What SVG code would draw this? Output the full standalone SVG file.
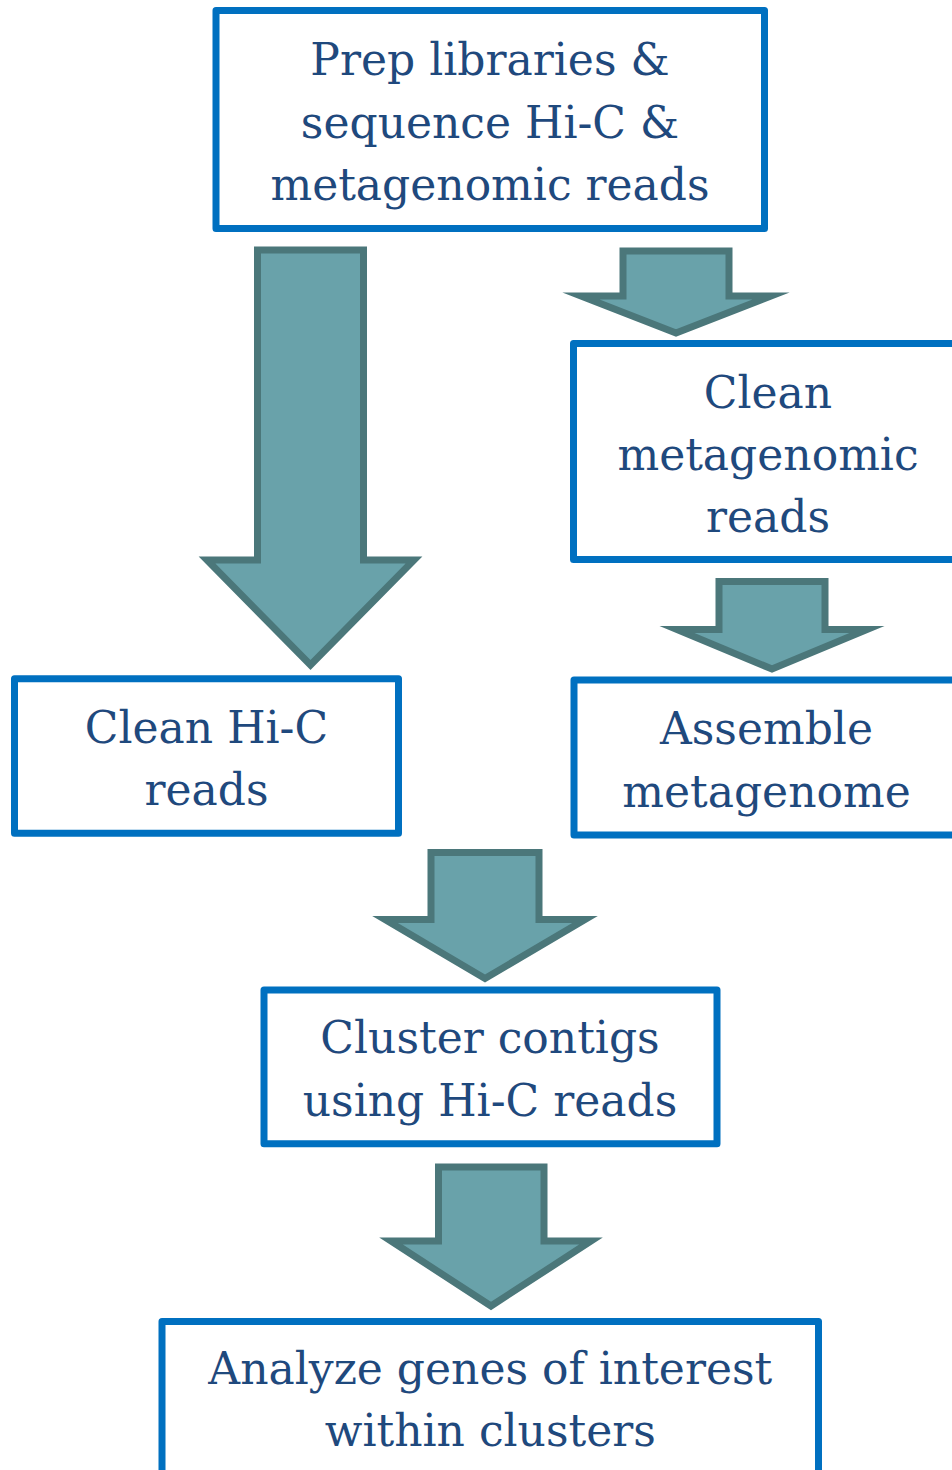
<svg xmlns="http://www.w3.org/2000/svg" width="952" height="1470" viewBox="0 0 952 1470">
  <style>
    .box { fill: #FFFFFF; stroke: #0070C0; stroke-width: 7; stroke-linejoin: round; }
    .arrow { fill: #69A2AA; stroke: #4B777A; stroke-width: 7; stroke-linejoin: miter; stroke-miterlimit: 10; }
    .label { font-family: "DejaVu Serif", "Liberation Serif", serif; font-size: 44px; fill: #1F497D; text-anchor: middle; }
  </style>
  <rect width="952" height="1470" fill="#FFFFFF"/>

  <g id="connectors">
    <polygon id="arrow-prep-to-hic" class="arrow" points="257.5,250 363.5,250 363.5,560 414,560 310.5,665 207,560 257.5,560"/>
    <polygon id="arrow-prep-to-meta" class="arrow" points="623,251 729,251 729,296 771,296 676,333 581,296 623,296"/>
    <polygon id="arrow-meta-to-assemble" class="arrow" points="719,581.5 825,581.5 825,629.5 867,629.5 772,669 677,629.5 719,629.5"/>
    <polygon id="arrow-to-cluster" class="arrow" points="431,852.5 539,852.5 539,919.5 585,919.5 485,978.5 385,919.5 431,919.5"/>
    <polygon id="arrow-cluster-to-analyze" class="arrow" points="438.5,1167 544,1167 544,1241 591,1241 491,1306 391,1241 438.5,1241"/>
  </g>

  <g id="node-prep">
    <rect class="box" x="216" y="10.5" width="548.5" height="218"/>
    <text class="label" x="490" y="75">Prep libraries &amp;</text>
    <text class="label" x="490" y="137.5">sequence Hi-C &amp;</text>
    <text class="label" x="490" y="200">metagenomic reads</text>
  </g>

  <g id="node-clean-meta">
    <rect class="box" x="573.5" y="343.5" width="389" height="216"/>
    <text class="label" x="768" y="408">Clean</text>
    <text class="label" x="768" y="470">metagenomic</text>
    <text class="label" x="768" y="532">reads</text>
  </g>

  <g id="node-clean-hic">
    <rect class="box" x="14.5" y="678.8" width="384" height="154.4"/>
    <text class="label" x="206.5" y="743">Clean Hi-C</text>
    <text class="label" x="206.5" y="805">reads</text>
  </g>

  <g id="node-assemble">
    <rect class="box" x="574" y="680" width="389" height="155"/>
    <text class="label" x="766.5" y="744">Assemble</text>
    <text class="label" x="766.5" y="806.5">metagenome</text>
  </g>

  <g id="node-cluster">
    <rect class="box" x="264" y="990" width="453" height="153.7"/>
    <text class="label" x="490" y="1053">Cluster contigs</text>
    <text class="label" x="490" y="1116">using Hi-C reads</text>
  </g>

  <g id="node-analyze">
    <rect class="box" x="162" y="1321.5" width="656.5" height="170"/>
    <text class="label" x="490.3" y="1384">Analyze genes of interest</text>
    <text class="label" x="490.3" y="1446">within clusters</text>
  </g>
</svg>
